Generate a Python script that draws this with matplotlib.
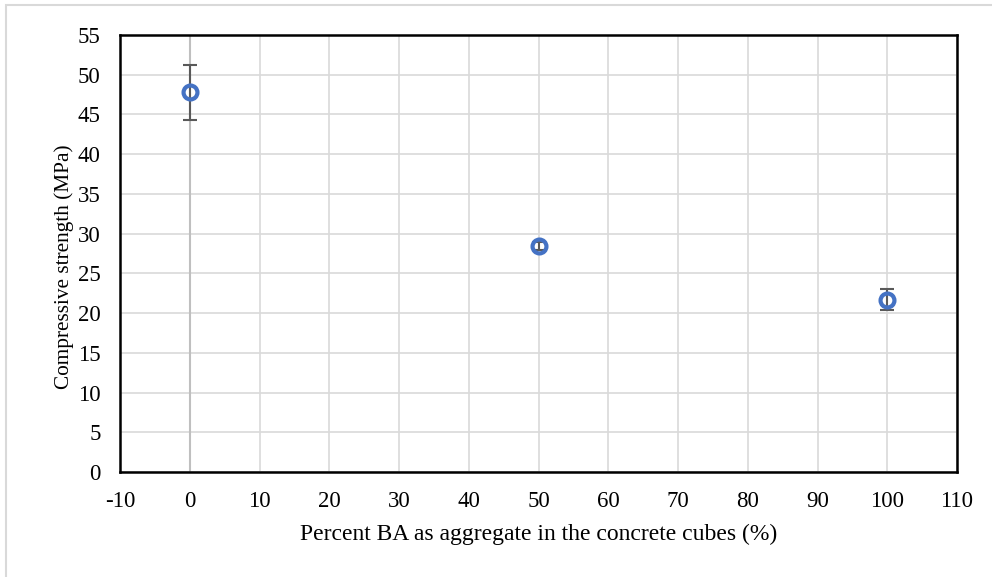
import matplotlib
matplotlib.use("Agg")
import matplotlib.pyplot as plt
from matplotlib.patches import Rectangle

percent_ba = [0, 50, 100]
strength = [47.8, 28.5, 21.7]
err_low = [3.45, 0.5, 1.3]
err_high = [3.45, 0.5, 1.3]
x_ticks = list(range(-10, 111, 10))
y_ticks = list(range(0, 56, 5))

plt.rcParams['font.family'] = ['Liberation Serif', 'DejaVu Serif']
plt.rcParams['axes.unicode_minus'] = False

W, H = 992, 577
fig = plt.figure(figsize=(W/100, H/100), dpi=100)
fig.patches.append(Rectangle((6/W, -0.1), 1.2, 1 - 5/H + 0.1, transform=fig.transFigure,
                             fill=False, edgecolor='#d9d9d9', linewidth=1.5))
ax = fig.add_axes([120/W, 1 - 472/H, (957-120)/W, (472-35)/H])
ax.set_xlim(-10, 110)
ax.set_ylim(0, 55)
ax.set_xticks(x_ticks)
ax.set_xticklabels([str(v) for v in x_ticks])
ax.set_yticks(y_ticks)
ax.set_yticklabels([str(v) for v in y_ticks])
ax.grid(True, color='#d9d9d9', linewidth=1.2)
ax.set_axisbelow(True)
ax.axvline(0, color='#bfbfbf', linewidth=1.5, zorder=1)
for s in ax.spines.values():
    s.set_color('black')
    s.set_linewidth(1.8)
ax.tick_params(length=0, labelsize=16.5, colors='black')
ax.tick_params(axis='x', pad=14)
ax.tick_params(axis='y', pad=14)
ax.errorbar(percent_ba, strength, yerr=[err_low, err_high], fmt='none',
            ecolor='#595959', elinewidth=1.5, capsize=5, capthick=1.5, zorder=3)
ax.plot(percent_ba, strength, linestyle='none', marker='o', markersize=10,
        markerfacecolor='none', markeredgecolor='#4472C4', markeredgewidth=3, zorder=4)
ax.set_xlabel('Percent BA as aggregate in the concrete cubes (%)', fontsize=17, va='center')
ax.set_ylabel('Compressive strength (MPa)', fontsize=15.3, va='center')
ax.xaxis.set_label_coords(0.5, -0.142)
ax.yaxis.set_label_coords(-0.067, 0.469)
fig.savefig('out.png', dpi=100)
